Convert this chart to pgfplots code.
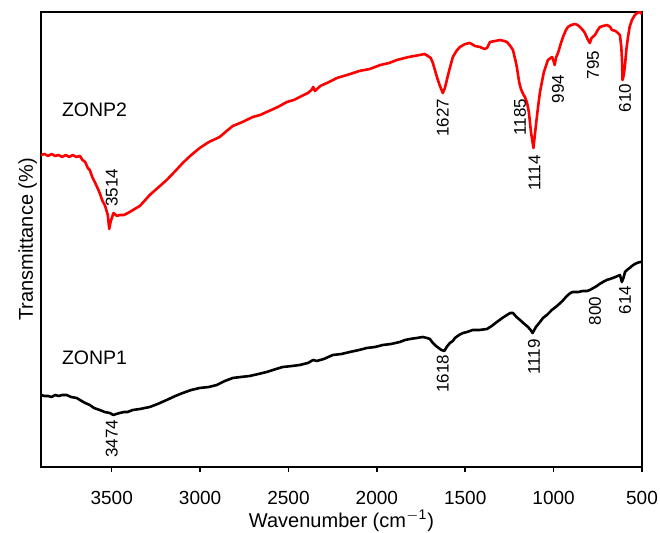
\documentclass[border=0pt]{standalone}
\usepackage{pgfplots}
\pgfplotsset{compat=1.18}
\usepackage{fontspec}
\setmainfont{Liberation Sans}
\begin{document}
\begin{tikzpicture}
\useasboundingbox (-20.5pt,-33pt) rectangle (309.5pt,233.5pt);
\begin{axis}[
  scale only axis,
  width=300.5pt, height=227.5pt,
  x dir=reverse,
  xmin=500, xmax=3900, ymin=0, ymax=455,
  xtick={500,1000,...,3500},
  ytick=\empty,
  xtick pos=bottom,
  tick align=outside,
  major tick length=2.5pt,
  axis line style={line width=0.9pt},
  every tick/.style={black, line width=0.8pt},
  scaled x ticks=false,
  /pgf/number format/assume math mode=true,
  /pgf/number format/1000 sep={},
  ticklabel style={font=\fontsize{9.5pt}{11pt}\selectfont},
  xticklabel style={anchor=base, yshift=-16.5pt},
  xlabel={Wavenumber (cm\textsuperscript{$-$1})},
  ylabel={Transmittance (\%)},
  label style={font=\fontsize{10pt}{12pt}\selectfont},
  xlabel style={at={(axis description cs:0.5,-0.1319)}, anchor=base},
  ylabel style={at={(axis description cs:-0.0133,0.5)}, anchor=base},
  clip=true,
]
\addplot[red, line width=1.3pt, line join=round] coordinates {
(3900,312)(3880,313)(3860,311)(3840,313)(3820,311)(3800,312)(3780,310)(3760,312)
(3740,310)(3720,312)(3700,310)(3680,311)(3665,307)(3650,305)(3635,299)(3624,297)
(3610,290)(3596,285)(3580,279)(3568,274)(3552,266)(3539,262)(3522,252)(3514,238)
(3505,246)(3490,254)(3470,251)(3455,252)(3430,252)(3398,255)(3370,258)(3341,261)
(3310,267)(3285,272)(3240,279)(3189,287)(3140,296)(3098,304)(3050,312)(3002,319)
(2950,325)(2889,330)(2850,336)(2815,341)(2760,345)(2702,350)(2660,352)(2623,355)
(2560,360)(2509,365)(2470,367)(2436,370)(2390,374)(2370,377)(2360,380)(2350,376)
(2320,381)(2270,385)(2226,389)(2150,393)(2100,396)(2040,398)(1980,402)(1930,404)
(1887,407)(1820,410)(1757,412)(1730,413)(1711,411)(1695,409)(1683,404)(1670,396)
(1660,390)(1643,381)(1627,374)(1615,379)(1604,387)(1590,397)(1570,410)(1550,416)
(1530,420)(1500,423)(1474,424)(1445,421)(1417,420)(1390,418)(1377,419)(1360,425)
(1330,426)(1304,427)(1280,426)(1264,425)(1245,421)(1230,417)(1215,406)(1208,400)
(1195,385)(1185,378)(1170,372)(1162,370)(1150,364)(1140,355)(1128,335)(1114,319)
(1100,342)(1088,360)(1077,375)(1065,386)(1055,395)(1032,407)(1009,410)(1000,406)
(994,402)(985,410)(975,414)(960,423)(947,430)(930,437)(919,440)(900,442)
(879,443)(865,442)(851,440)(835,437)(823,434)(808,428)(795,424)(785,429)
(766,432)(750,437)(738,440)(720,441)(698,442)(680,440)(670,437)(650,436)
(642,435)(625,432)(617,420)(613,407)(610,387)(603,392)(596,402)(588,418)
(579,430)(570,440)(557,447)(540,452)(528,454)(511,455)(500,453)
};
\addplot[black, line width=1.3pt, line join=round] coordinates {
(3900,72)(3880,71)(3860,71)(3840,70)(3820,72)(3800,71)(3780,72)(3755,72)
(3730,70)(3698,69)(3670,66)(3650,64)(3624,62)(3600,59)(3568,57)(3540,55)
(3511,54)(3490,52)(3474,53)(3455,54)(3430,55)(3410,55)(3381,57)(3340,58)
(3285,60)(3240,63)(3189,67)(3140,71)(3098,74)(3050,77)(3002,79)(2950,80)
(2906,82)(2860,86)(2815,89)(2770,90)(2719,91)(2670,93)(2623,95)(2570,98)
(2532,100)(2480,101)(2436,102)(2390,104)(2360,107)(2340,106)(2300,108)(2249,112)
(2200,113)(2153,115)(2100,117)(2057,119)(2010,120)(1966,122)(1920,123)(1870,125)
(1840,127)(1813,128)(1774,129)(1740,130)(1717,129)(1700,128)(1683,124)(1665,121)
(1650,119)(1635,117)(1618,116)(1605,120)(1587,124)(1570,126)(1558,129)(1535,132)
(1513,134)(1490,135)(1457,137)(1420,137)(1377,138)(1350,141)(1321,145)(1290,149)
(1264,152)(1245,154)(1230,154)(1210,150)(1190,147)(1165,143)(1145,140)(1130,137)
(1119,134)(1100,140)(1077,145)(1060,149)(1038,152)(1010,157)(981,161)(950,166)
(925,171)(905,174)(891,175)(860,175)(834,176)(810,176)(795,177)(775,179)
(755,181)(740,183)(721,185)(700,187)(681,188)(650,190)(625,192)(618,188)
(614,185)(605,189)(596,195)(585,197)(570,199)(557,201)(540,203)(528,204)
(510,205)(500,205)
};
\begin{scope}[every node/.style={font=\fontsize{9.75pt}{11pt}\selectfont, anchor=west, inner sep=0pt}]
\node at (axis cs:3783,357) {ZONP2};
\node at (axis cs:3783,109) {ZONP1};
\end{scope}
\begin{scope}[every node/.style={font=\fontsize{8.5pt}{10pt}\selectfont, rotate=90, anchor=center, inner sep=0pt}]
\node at (axis cs:3500,279) {3514};
\node at (axis cs:1627,349) {1627};
\node at (axis cs:1190,350) {1185};
\node at (axis cs:1108,294) {1114};
\node at (axis cs:975,378) {994};
\node at (axis cs:777,402) {795};
\node at (axis cs:596,369) {610};
\node at (axis cs:3500,28) {3474};
\node at (axis cs:1627,93) {1618};
\node at (axis cs:1111,110) {1119};
\node at (axis cs:766,156) {800};
\node at (axis cs:596,167) {614};
\end{scope}
\end{axis}
\end{tikzpicture}
\end{document}
